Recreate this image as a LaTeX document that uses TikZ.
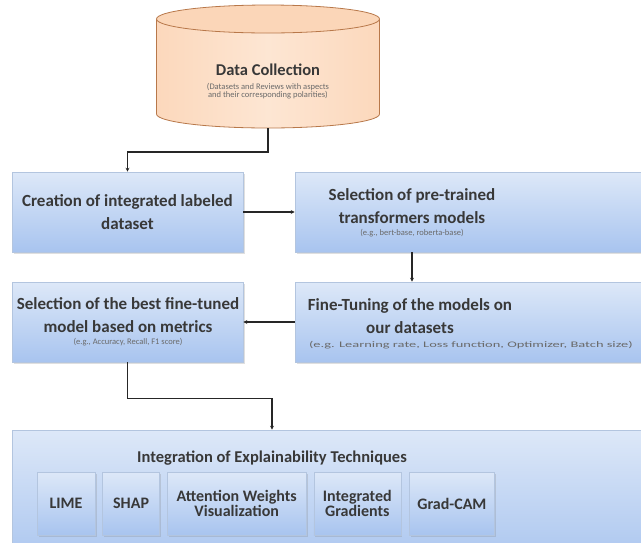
\documentclass[tikz,border=0pt]{standalone}
\usepackage{fontspec}
\setmainfont{Carlito}
\usetikzlibrary{shadows,arrows.meta,positioning}

\definecolor{boxtop}{HTML}{DDE8F8}
\definecolor{boxbot}{HTML}{A8C4EF}
\definecolor{boxline}{HTML}{B3C5DF}
\definecolor{cylbody}{HTML}{FCD8BC}
\definecolor{cyllight}{HTML}{FDE6D3}
\definecolor{cylend}{HTML}{FBD6B8}
\definecolor{cylline}{HTML}{B8784A}
\definecolor{txt}{HTML}{383838}

\begin{document}
\begin{tikzpicture}[x=1pt, y=-1pt,
    stagebox/.style={rectangle, draw=boxline, line width=0.6pt, top color=boxtop, bottom color=boxbot,
      drop shadow={opacity=0.25, shadow xshift=1.5pt, shadow yshift=-2pt}},
    methodbox/.style={stagebox, minimum height=63pt, inner sep=1pt, align=center, text=txt,
      font=\fontsize{16}{15.5}\selectfont\bfseries},
    maintext/.style={align=center, text=txt, font=\fontsize{17}{23}\selectfont\bfseries},
    subtext/.style={align=center, text=txt!75, font=\fontsize{8.5}{8.5}\selectfont},
    flow/.style={-{Stealth[length=4pt, width=4pt]}, line width=1.6pt, draw=black!85}]

    \clip (0,0) rectangle (641,542);

    % data source (drawn as a can)
    \shade[left color=cylbody, right color=cylbody, middle color=cyllight]
      (156.5,19) -- (156.5,114) arc[start angle=180, end angle=360, x radius=111.5pt, y radius=14pt]
      -- (379.5,19) -- cycle;
    \draw[cylline, line width=0.8pt]
      (156.5,19) -- (156.5,114) arc[start angle=180, end angle=360, x radius=111.5pt, y radius=14pt]
      -- (379.5,19);
    \filldraw[fill=cylend, draw=cylline, line width=0.8pt] (268,19) ellipse[x radius=111.5pt, y radius=14pt];
    \coordinate (data) at (268,128);
    \node[maintext, font=\fontsize{16.5}{18}\selectfont\bfseries] (datatitle) at (268,70) {Data Collection};
    \node[subtext, below=0pt of datatitle] (datasub) {(Datasets and Reviews with aspects\\and their corresponding polarities)};

    % pipeline stages
    \node[stagebox, minimum width=231pt, minimum height=80pt] (create) at (127.5,212) {};
    \node[stagebox, minimum width=360pt, minimum height=80pt] (select) at (475,212) {};
    \node[stagebox, minimum width=360pt, minimum height=80pt] (finetune) at (475,322) {};
    \node[stagebox, minimum width=231pt, minimum height=80pt] (best) at (127.5,322) {};

    \node[maintext] (createtxt) at (create.center) {Creation of integrated labeled\\dataset};
    \node[maintext] (selecttxt) at (412,206) {Selection of pre-trained\\transformers models};
    \node[subtext, below=-1pt of selecttxt] (selectsub) {(e.g., bert-base, roberta-base)};
    \node[maintext] (finetunetxt) at (410,316) {Fine-Tuning of the models on\\our datasets};
    \node[subtext, anchor=west, xscale=1.7, transform shape] (finetunesub) at (303,345)
      {(e.g. Learning rate, Loss function, Optimizer, Batch size)};
    \node[maintext] (besttxt) at (128,315) {Selection of the best fine-tuned\\model based on metrics};
    \node[subtext, below=-1pt of besttxt] (bestsub) {(e.g., Accuracy, Recall, F1 score)};

    % explainability
    \node[stagebox, minimum width=660pt, minimum height=140pt] (xai) at (342,500) {};
    \node[text=txt, font=\fontsize{16.5}{18}\selectfont\bfseries] (xaititle) at (272,458) {Integration of Explainability Techniques};

    \node[methodbox, minimum width=58pt] (lime) at (66,503.5) {LIME};
    \node[methodbox, minimum width=57pt, right=7pt of lime] (shap) {SHAP};
    \node[methodbox, minimum width=139pt, right=7pt of shap] (attn) {Attention Weights\\Visualization};
    \node[methodbox, minimum width=87pt, right=7pt of attn] (intgrad) {Integrated\\Gradients};
    \node[methodbox, minimum width=85pt, right=8pt of intgrad] (gradcam) {Grad-CAM};

    % connectors
    \draw[flow] (data) -- ++(0,24) -| (create.north);
    \draw[flow] (create.east) -- (select.west);
    \draw[flow] (select.south -| selecttxt) -- (finetune.north -| selecttxt);
    \draw[flow] (finetune.west) -- (best.east);
    \draw[flow] (best.south) -- ++(0,36) -| (xai.north -| xaititle);
\end{tikzpicture}
\end{document}
